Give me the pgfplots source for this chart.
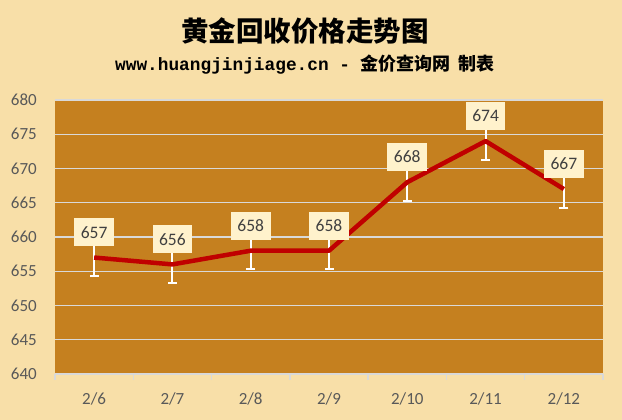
\documentclass[border=0pt]{standalone}
\usepackage{fontspec}
\setmainfont{Carlito}
\setmonofont{Liberation Mono}
\newfontfamily\cjk{Noto Sans CJK SC}
\usepackage{pgfplots}
\pgfplotsset{compat=1.18}
\definecolor{bgc}{RGB}{248,223,168}
\definecolor{plotbg}{RGB}{197,128,31}
\definecolor{gridc}{RGB}{217,217,217}
\definecolor{linec}{RGB}{192,0,0}
\definecolor{labbg}{RGB}{255,242,204}
\definecolor{labtxt}{RGB}{64,64,64}
\definecolor{tickc}{RGB}{89,89,89}
\begin{document}
\begin{tikzpicture}
\useasboundingbox (0,0) rectangle (622pt,-420pt);
\fill[bgc] (0,0) rectangle (622pt,-420pt);
\node[font=\cjk\bfseries\fontsize{27.5}{30}\selectfont] at (305pt,-31.5pt) {黄金回收价格走势图};
\node[inner sep=0pt] at (305pt,-65pt) {\ttfamily\bfseries\fontsize{17.8}{20}\selectfont www.huangjinjiage.cn - \cjk\bfseries\fontsize{18}{20}\selectfont 金价查询网\hspace{8pt}制表};
\begin{axis}[
  at={(55pt,-374pt)}, anchor=south west,
  scale only axis, width=548pt, height=274pt,
  xmin=-0.5, xmax=6.5, ymin=640, ymax=680,
  clip=false,
  /pgf/number format/assume math mode=true,
  axis background/.style={fill=plotbg},
  axis line style={draw=none},
  ymajorgrids, major grid style={draw=gridc, line width=1.3pt},
  ytick={640,645,...,680},
  xtick={0,...,6},
  xticklabels={2/6,2/7,2/8,2/9,2/10,2/11,2/12},
  minor xtick={-0.5,0.5,...,6.5},
  tick pos=left, tick align=outside,
  major tick length=0pt, minor tick length=6pt,
  minor tick style={draw=gridc, line width=1.3pt},
  major tick style={draw=none},
  ticklabel style={font=\fontsize{17}{20}\selectfont, text=tickc},
  yticklabel style={inner sep=0pt, anchor=east, xshift=-18pt},
  xticklabel style={inner sep=0pt, anchor=base, yshift=-30.5pt},
]
\addplot[draw=none, mark=none,
  error bars/.cd, y dir=both, y fixed=2.7, error mark=-,
  error bar style={draw=white, line width=2pt},
  error mark options={draw=white, line width=2pt, mark size=4.5pt, rotate=90}]
  coordinates {(0,657) (1,656) (2,658) (3,658) (4,668) (5,674) (6,667)};
\addplot[draw=linec, line width=4.5pt, mark=none, line join=round]
  coordinates {(0,657) (1,656) (2,658) (3,658) (4,668) (5,674) (6,667)};
\addplot[draw=none, mark=none, nodes near coords,
  nodes near coords style={font=\fontsize{17.5}{20}\selectfont, text=labtxt, fill=labbg,
    inner xsep=6.5pt, inner ysep=0pt, minimum height=28pt, anchor=south, yshift=11pt}]
  coordinates {(0,657) (1,656) (2,658) (3,658) (4,668) (5,674) (6,667)};
\end{axis}
\end{tikzpicture}
\end{document}
